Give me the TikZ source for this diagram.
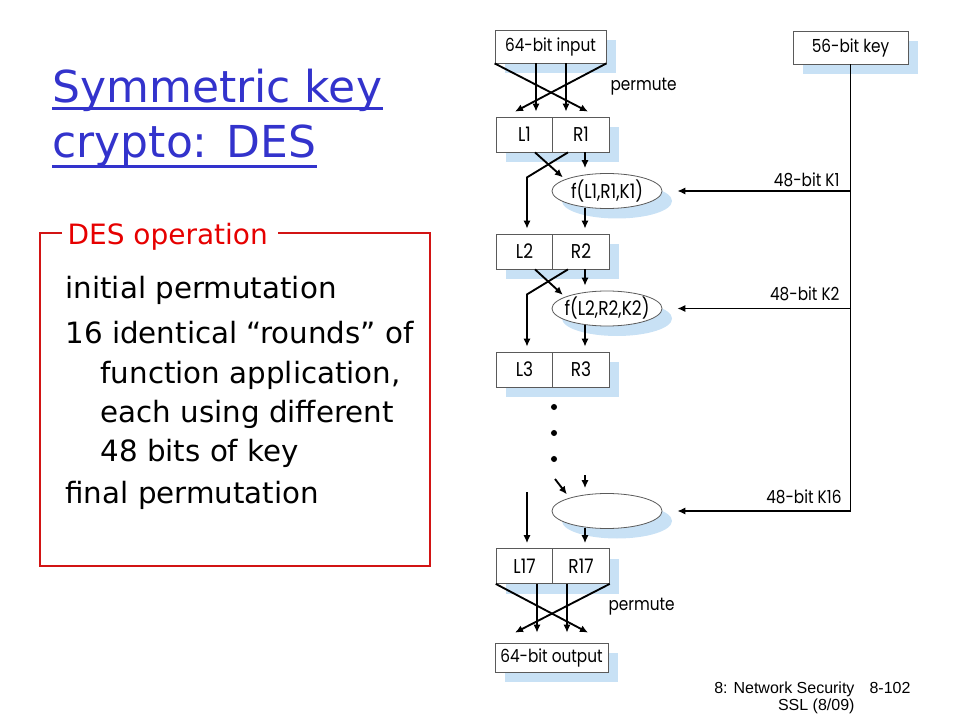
\documentclass[tikz,border=0pt]{standalone}
\usepackage{fontspec}
\usepackage{graphicx}
\setmainfont{DejaVu Sans}
\newfontfamily\diagfont{Poppins}[FakeStretch=0.85]
\newfontfamily\footfont{Liberation Sans}
\usetikzlibrary{arrows.meta,calc,shapes.geometric,shadows}

\definecolor{titleblue}{RGB}{51,51,204}
\definecolor{opred}{RGB}{230,0,0}
\definecolor{framered}{RGB}{210,20,20}
\definecolor{shadowblue}{RGB}{200,225,245}
\definecolor{boxgray}{RGB}{90,90,90}

\tikzset{every picture/.style={line width=0.75pt}}
\tikzset{
  lbl/.style={inner sep=0pt, font=\diagfont\fontsize{13.5}{15}\selectfont},
  box/.style={lbl, draw=boxgray, fill=white, line width=0.6pt, minimum height=26.25pt,
    drop shadow={shadow xshift=7.5pt, shadow yshift=-7.5pt, fill=shadowblue, opacity=1}},
  half/.style={box, minimum width=42.5pt, font=\diagfont\fontsize{15}{17}\selectfont},
  fn/.style={lbl, ellipse, draw=boxgray, fill=white, line width=0.6pt, inner xsep=-8pt, inner ysep=-4pt,
    minimum width=82.5pt, minimum height=26.25pt, font=\diagfont\fontsize{15}{17}\selectfont,
    drop shadow={shadow xshift=7.5pt, shadow yshift=-7.5pt, fill=shadowblue, opacity=1}},
  arr/.style={-{Latex[length=6pt,width=5.5pt]}, line width=1.4pt},
  dot/.style={circle, fill=black, inner sep=1.6pt},
  titletext/.style={inner sep=0pt, text=titleblue, font=\fontsize{33}{40}\selectfont},
  bodytext/.style={inner sep=0pt, font=\fontsize{22}{26}\selectfont},
  optext/.style={inner sep=0pt, text=opred, font=\fontsize{21}{25}\selectfont},
  foottext/.style={inner sep=0pt, font=\footfont\fontsize{12}{14}\selectfont}
}

\begin{document}
\begin{tikzpicture}[x=0.75pt,y=0.75pt,yscale=-1,xscale=1]
	\useasboundingbox (0,0) rectangle (960,720);
	
	% Title
	\node[titletext, anchor=base west] (title1) at (52,103) {Symmetric key};
	\node[titletext, anchor=base west] (title2) at (52,158) {crypto: DES};
	\draw[titleblue, line width=2.25pt] ($(title1.base west)+(0,6)$) -- ($(title1.base east)+(0,6)$);
	\draw[titleblue, line width=2.25pt] ($(title2.base west)+(0,9)$) -- ($(title2.base east)+(0,9)$);
	
	% Text Node
	\node[optext, anchor=base west] (opname) at (67,245) {DES operation};
	%Shape: Rectangle (frame round the operation text)
	\draw[framered, line width=1.5pt] ($(opname.base west)+(-5,-12)$) -| (40,566) -| (430,233) -- ($(opname.base east)+(10,-12)$);
	% Text Node
	\node[bodytext, anchor=base west] (line1) at (65,298) {initial permutation};
	\node[bodytext, anchor=base west] (line2) at (65,344) {16 identical “rounds” of};
	\node[bodytext, anchor=base west] (line3) at (100,383) {function application,};
	\node[bodytext, anchor=base west] (line4) at (100,422) {each using different};
	\node[bodytext, anchor=base west] (line5) at (100,461) {48 bits of key};
	\node[bodytext, anchor=base west] (line6) at (65,503) {final permutation};
	
	%Shape: Rectangle
	\node[box, minimum width=83.25pt, minimum height=24.75pt] (input) at (550.5,46.5) {64-bit input};
	\node[box, minimum width=86.25pt, minimum height=24.75pt] (key) at (850.5,47.5) {56-bit key};
	\node[half] (L1) at (524.5,134.5) {L1};
	\node[half] (R1) at (581,134.5) {R1};
	\node[fn] (f1) at (607,191) {f(L1,R1,K1)};
	\node[half] (L2) at (524.5,251.5) {L2};
	\node[half] (R2) at (581,251.5) {R2};
	\node[fn] (f2) at (607,308.5) {f(L2,R2,K2)};
	\node[half] (L3) at (524.5,369.5) {L3};
	\node[half] (R3) at (581,369.5) {R3};
	\node[fn] (f16) at (607,511) {};
	\node[half] (L17) at (524.5,566) {L17};
	\node[half] (R17) at (581,566) {R17};
	\node[box, minimum width=84.75pt, minimum height=21.75pt] (output) at (551.5,657.5) {64-bit output};
	
	% Text Node
	\node[lbl, anchor=west] (perm1) at (610,87) {permute};
	\node[lbl, anchor=west] (perm2) at (608,607) {permute};
	\node[lbl, anchor=east] (k1lbl) at (840,180) {48-bit K1};
	\node[lbl, anchor=east] (k2lbl) at (840,294) {48-bit K2};
	\node[lbl, anchor=east] (k16lbl) at (842,497) {48-bit K16};
	
	% dots
	\node[dot] (dot1) at (554,407) {};
	\node[dot] (dot2) at (554,433) {};
	\node[dot] (dot3) at (554,459) {};
	\coordinate (in16a) at (555,479);
	\coordinate (in16b) at (585,475);
	\coordinate (in16c) at (527,492);
	
	%Straight Lines: initial permutation
	\draw[arr] (input.south west) -- ($(R1.north)+(7,-5)$);
	\draw[arr] (input.south east) -- ($(L1.north)+(-9.5,-5)$);
	\draw[arr] ($(input.south)+(-14.5,0)$) -- ($(L1.north)+(11.5,-5)$);
	\draw[arr] ($(input.south)+(15.5,0)$) -- ($(R1.north)+(-15,-5)$);
	
	%Straight Lines: round 1
	\draw[arr] ($(L1.south)+(10.5,0)$) -- ($(f1.north west)+(-5,-1)$);
	\draw[arr] ($(R1.south)+(-13,0)$) -- ++(-41,25) -- ($(L2.north)+(2.5,-5)$);
	\draw[arr] ($(R1.south)+(4,0)$) -- ($(f1.north)+(-22,-5)$);
	\draw[arr] ($(f1.south)+(-22,-1)$) -- ($(R2.north)+(4,-5)$);
	
	%Straight Lines: round 2
	\draw[arr] ($(L2.south)+(10.5,0)$) -- ($(f2.north west)+(-5,-1)$);
	\draw[arr] ($(R2.south)+(-13,0)$) -- ++(-41,25) -- ($(L3.north)+(2.5,-5)$);
	\draw[arr] ($(R2.south)+(4,0)$) -- ($(f2.north)+(-22,-5)$);
	\draw[arr] ($(f2.south)+(-22,-1)$) -- ($(R3.north)+(4,-5)$);
	
	%Straight Lines: round 16
	\draw[arr] (in16a) -- ($(f16.north west)+(-1,-4)$);
	\draw[arr] (in16b) -- ($(f16.north)+(-22,-5)$);
	\draw[arr] (in16c) -- ($(L17.north)+(2.5,-5)$);
	\draw[arr] ($(f16.south)+(-22,-1)$) -- ($(R17.north)+(4,-5)$);
	
	%Straight Lines: final permutation
	\draw[arr] (L17.south west) -- ($(output.north)+(36.5,-10)$);
	\draw[arr] (R17.south east) -- ($(output.north)+(-36.5,-10)$);
	\draw[arr] ($(L17.south)+(12.5,0)$) -- ($(output.north)+(-14.5,-10)$);
	\draw[arr] ($(R17.south)+(-14,0)$) -- ($(output.north)+(15.5,-10)$);
	
	%Straight Lines: key schedule
	\draw[line width=1.4pt] (key.south) -- (key.south |- f16.east);
	\draw[arr] (key.south |- f1.east) -- ($(f1.east)+(15,0)$);
	\draw[arr] (key.south |- f2.east) -- ($(f2.east)+(15,0)$);
	\draw[arr] (key.south |- f16.east) -- ($(f16.east)+(15,0)$);
	
	% Footer
	\node[foottext, anchor=base east] (foot1) at (855,693) {8: Network Security};
	\node[foottext, anchor=base east] (foot2) at (855,710) {SSL (8/09)};
	\node[foottext, anchor=base east] (pagenum) at (911,693) {8-102};
\end{tikzpicture}
\end{document}
